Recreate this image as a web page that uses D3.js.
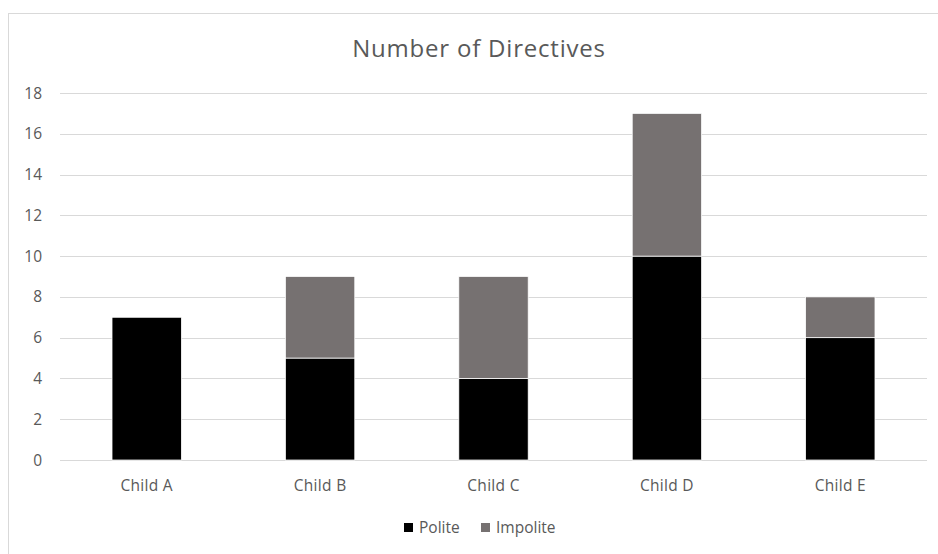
<!DOCTYPE html>
<html>
<head>
<meta charset="utf-8">
<script src="https://cdn.jsdelivr.net/npm/d3@7"></script>
<style>
  body { margin: 0; background: #fff; }
  text { font-family: "Open Sans", "Noto Sans", sans-serif; fill: #595959; }
</style>
</head>
<body>
<svg id="chart" width="938" height="554"></svg>
<script>
// data
const categories = ['Child A', 'Child B', 'Child C', 'Child D', 'Child E'];
const polite = [7, 5, 4, 10, 6];
const impolite = [0, 4, 5, 7, 2];
const series_names = ['Polite', 'Impolite'];
const y_ticks = [0, 2, 4, 6, 8, 10, 12, 14, 16, 18];

const colors = ['#000000', '#767171'];
const svg = d3.select('#chart');

// outer frame
svg.append('rect')
    .attr('x', 8.5).attr('y', 13.5)
    .attr('width', 940).attr('height', 560)
    .attr('fill', 'none').attr('stroke', '#d9d9d9');

const x = d3.scaleBand()
    .domain(categories)
    .range([60, 927])
    .paddingInner(0.6)
    .paddingOuter(0.3);
const y = d3.scaleLinear().domain([0, 18]).range([460, 93]);

// grid
svg.append('g')
    .selectAll('line')
    .data(y_ticks)
    .join('line')
    .attr('x1', 60).attr('x2', 927)
    .attr('y1', d => Math.round(y(d)) + 0.5)
    .attr('y2', d => Math.round(y(d)) + 0.5)
    .attr('stroke', '#d9d9d9');

// y labels
svg.append('g')
    .selectAll('text')
    .data(y_ticks)
    .join('text')
    .text(d => d)
    .attr('x', 42)
    .attr('y', d => y(d) + 5.5)
    .attr('text-anchor', 'end')
    .attr('font-size', 15.5);

// stacked bars
const rows = categories.map((c, i) => ({ cat: c, Polite: polite[i], Impolite: impolite[i] }));
const stacked = d3.stack().keys(series_names)(rows);

svg.append('g')
    .selectAll('g')
    .data(stacked)
    .join('g')
    .attr('fill', (d, i) => colors[i])
    .selectAll('rect')
    .data(d => d.filter(p => p[1] > p[0]))
    .join('rect')
    .attr('x', d => x(d.data.cat))
    .attr('y', d => y(d[1]))
    .attr('width', x.bandwidth())
    .attr('height', d => y(d[0]) - y(d[1]))
    .attr('stroke', '#ffffff')
    .attr('stroke-width', 0.75);

// category labels
svg.append('g')
    .selectAll('text')
    .data(categories)
    .join('text')
    .text(d => d)
    .attr('x', d => x(d) + x.bandwidth() / 2)
    .attr('y', 491)
    .attr('text-anchor', 'middle')
    .attr('font-size', 15.5)
    .attr('letter-spacing', 0.3);

// title
svg.append('text')
    .text('Number of Directives')
    .attr('x', 479)
    .attr('y', 57)
    .attr('text-anchor', 'middle')
    .attr('font-size', 24)
    .attr('letter-spacing', 0.8);

// legend
const legend_x = [404, 481];
const lg = svg.append('g')
    .selectAll('g')
    .data(series_names)
    .join('g')
    .attr('transform', (d, i) => `translate(${legend_x[i]},0)`);
lg.append('rect')
    .attr('x', 0).attr('y', 523)
    .attr('width', 9).attr('height', 9)
    .attr('fill', (d, i) => colors[i]);
lg.append('text')
    .text(d => d)
    .attr('x', 15)
    .attr('y', 533)
    .attr('font-size', 15.5);
</script>
</body>
</html>
